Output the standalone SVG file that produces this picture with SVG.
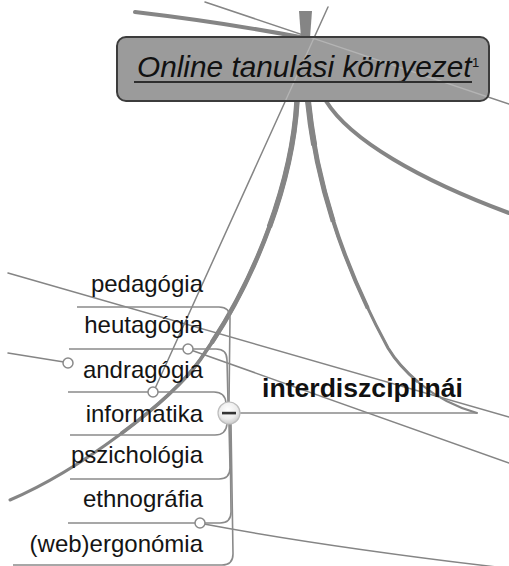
<svg xmlns="http://www.w3.org/2000/svg" width="509" height="566" viewBox="0 0 509 566">
<defs>
<style>
.ln{fill:none;stroke:#858585;stroke-linecap:round}
.tp{fill:none;stroke:#858585;stroke-linecap:butt}
.thin{stroke-width:1.5}
.ul{fill:none;stroke:#8a8a8a;stroke-width:1.6}
.lt{fill:none;stroke:#b4b4b4;stroke-width:1.3}
.lbl{font-family:"Liberation Sans",Arial,sans-serif;font-size:24px;fill:#141414;text-anchor:end}
.dot{fill:#fff;stroke:#8a8a8a;stroke-width:1.5}
</style>
<path id="c1" d="M297 101 C292 190 250 290 200 360 C170 402 80 470 10 500"/>
<path id="c2" d="M308 101 C315 170 335 250 388 348 C400 368 430 400 477 413"/>
<radialGradient id="btn" cx="0.45" cy="0.35" r="0.7">
<stop offset="0" stop-color="#ffffff"/>
<stop offset="0.6" stop-color="#ececec"/>
<stop offset="1" stop-color="#c4c4c4"/>
</radialGradient>
<clipPath id="boxclip"><rect x="118" y="38" width="370" height="62" rx="8"/></clipPath>
</defs>
<rect width="509" height="566" fill="#fff"/>
<g id="connectors">
<polygon points="299,11 312,11 310,38 301,38" fill="#858585"/>
<path class="ln" d="M135 12 Q220 22 300 37" stroke-width="4"/>
<path class="ln thin" d="M205 2 L509 104"/>
<path class="ln thin" d="M328 7 L153 393"/>
<path class="ln" d="M297 101 C292 190 250 290 200 360 C170 402 80 470 10 500" stroke-width="3"/>
<path class="tp" d="M297 101 C292 190 250 290 200 360 C170 402 80 470 10 500" pathLength="100" stroke-width="3.8" stroke-dasharray="75 300"/>
<path class="tp" d="M297 101 C292 190 250 290 200 360 C170 402 80 470 10 500" pathLength="100" stroke-width="4.6" stroke-dasharray="50 300"/>
<path class="tp" d="M297 101 C292 190 250 290 200 360 C170 402 80 470 10 500" pathLength="100" stroke-width="5.4" stroke-dasharray="25 300"/>
<path class="ln" d="M308 101 C315 170 335 250 388 348 C400 368 430 400 477 413" stroke-width="2"/>
<path class="tp" d="M308 101 C315 170 335 250 388 348 C400 368 430 400 477 413" pathLength="100" stroke-width="3" stroke-dasharray="82 300"/>
<path class="tp" d="M308 101 C315 170 335 250 388 348 C400 368 430 400 477 413" pathLength="100" stroke-width="4" stroke-dasharray="58 300"/>
<path class="tp" d="M308 101 C315 170 335 250 388 348 C400 368 430 400 477 413" pathLength="100" stroke-width="5" stroke-dasharray="33 300"/>
<path class="tp" d="M308 101 C315 170 335 250 388 348 C400 368 430 400 477 413" pathLength="100" stroke-width="6" stroke-dasharray="12 300"/>
<path class="ln" d="M326 101 C350 140 420 180 509 213" stroke-width="4"/>
<path class="ln thin" d="M8 273 L509 417"/>
<path class="ln thin" d="M8 353 L64 362"/>
<path class="ln thin" d="M188 349 L509 463"/>
<path class="ln thin" d="M204 524 C300 542 420 558 505 568"/>
<path class="ul" d="M240 413 L477 413"/>
<path class="ul" d="M229 402 L230 318 Q230 307 219 307 L77 307"/>
<path class="ul" d="M228 402 L227 360 Q227 349 216 349 L69 349"/>
<path class="ul" d="M226 403 Q225 392 214 392 L68 392"/>
<path class="ul" d="M227 424 Q226 435 215 435 L70 435"/>
<path class="ul" d="M229 424 L230 468 Q230 479 219 479 L70 479"/>
<path class="ul" d="M230 424 L231 512 Q231 523 220 523 L68 523"/>
<path class="ul" d="M231 424 L233 554 Q233 565 222 565 L13 565"/>
</g>
<g id="central">
<rect x="117" y="37" width="372" height="64" rx="9" fill="#9b9b9b" stroke="#3c3c3c" stroke-width="2"/>
<g clip-path="url(#boxclip)">
<path class="lt" d="M205 2 L509 104"/>
<path class="lt" d="M328 7 L153 393"/>
</g>
<text x="137" y="77" font-family="Liberation Sans, Arial, sans-serif" font-size="29.8" font-style="italic" fill="#111">Online tanulási környezet</text>
<line x1="134" y1="82" x2="472" y2="82" stroke="#2e2e2e" stroke-width="2"/>
<text x="472" y="67" font-family="Liberation Sans, Arial, sans-serif" font-size="13" fill="#111">1</text>
</g>
<g id="interdiszciplinai">
<text x="262" y="397" font-family="Liberation Sans, Arial, sans-serif" font-size="26.6" font-weight="bold" fill="#111">interdiszciplinái</text>
<circle cx="229" cy="413" r="11" fill="url(#btn)" stroke="#bdbdbd" stroke-width="1.2"/>
<rect x="222" y="411.8" width="14" height="2.6" fill="#333"/>
</g>
<g id="pedagogia"><text class="lbl" x="203" y="292">pedagógia</text></g>
<g id="heutagogia"><text class="lbl" x="203" y="333">heutagógia</text><circle class="dot" cx="188" cy="349" r="5"/></g>
<g id="andragogia"><text class="lbl" x="203" y="378">andragógia</text><circle class="dot" cx="153" cy="392" r="5"/><circle class="dot" cx="68" cy="363" r="5"/></g>
<g id="informatika"><text class="lbl" x="203" y="422">informatika</text></g>
<g id="pszichologia"><text class="lbl" x="203" y="463">pszichológia</text></g>
<g id="ethnografia"><text class="lbl" x="203" y="507">ethnográfia</text><circle class="dot" cx="200" cy="523" r="5"/></g>
<g id="webergonomia"><text class="lbl" x="203" y="552">(web)ergonómia</text></g>
</svg>
